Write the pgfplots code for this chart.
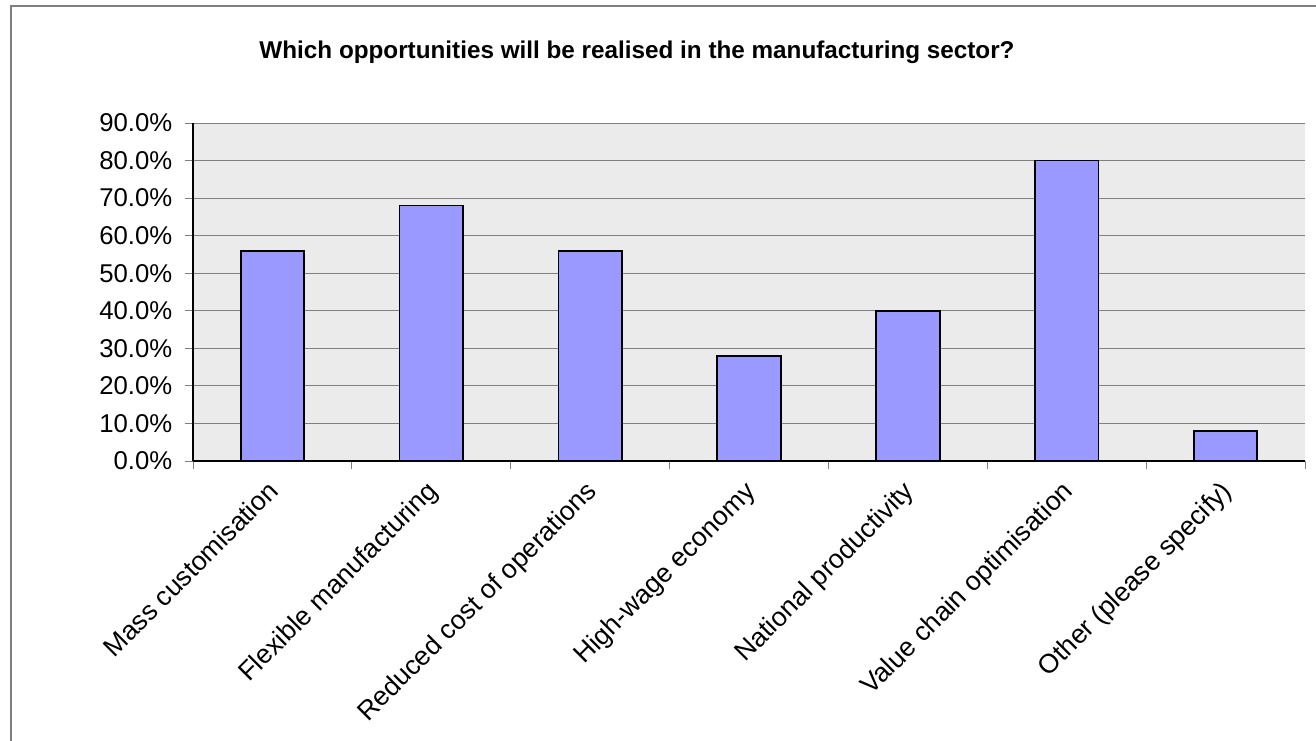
\documentclass[border=0pt]{standalone}
\usepackage{pgfplots}
\pgfplotsset{compat=1.18}
\usepackage{fontspec}
\setmainfont{Liberation Sans}
\definecolor{barfill}{HTML}{9999FF}
\definecolor{plotbg}{HTML}{EBEBEB}
\definecolor{gridc}{HTML}{808080}
\definecolor{framec}{HTML}{7F7F7F}
\begin{document}
\begin{tikzpicture}[x=0.75pt,y=0.75pt]
\useasboundingbox (0,0) rectangle (1316,741);
\clip (0,0) rectangle (1316,741);
\draw[framec, line width=0.9pt] (11,735) rectangle (1340,-30);
\node[font=\fontsize{18.2}{20}\selectfont\bfseries] at (637,689) {Which opportunities will be realised in the manufacturing sector?};
\begin{axis}[
  at={(193pt*0.75,280pt*0.75)}, anchor=south west,
  scale only axis, width=834pt, height=253.5pt,
  xmin=-0.5, xmax=6.5, ymin=0, ymax=90,
  axis background/.style={fill=plotbg},
  axis x line*=bottom, axis y line*=left,
  axis line style={black, line width=0.8pt},
  ytick={0,10,...,90},
  yticklabels={0.0\%,10.0\%,20.0\%,30.0\%,40.0\%,50.0\%,60.0\%,70.0\%,80.0\%,90.0\%},
  ymajorgrids, major grid style={gridc, line width=0.7pt},
  tick align=outside,
  major tick length=6pt, minor tick length=6pt,
  every tick/.style={gridc, line width=0.7pt},
  xtick={0,...,6},
  major x tick style={draw=none},
  minor xtick={-0.5,0.5,...,6.5},
  xticklabels={Mass customisation,Flexible manufacturing,Reduced cost of operations,High-wage economy,National productivity,Value chain optimisation,Other (please specify)},
  xticklabel style={rotate=45, anchor=north east, inner sep=0pt, xshift=-8.5pt, yshift=-2pt, font=\fontsize{20}{22}\selectfont},
  yticklabel style={xshift=-6pt, font=\fontsize{19.3}{21}\selectfont},
]
\addplot[ybar, bar width=0.4, fill=barfill, draw=black, line width=1.3pt] coordinates {
(0,56) (1,68) (2,56) (3,28) (4,40) (5,80) (6,8)
};
\end{axis}
\end{tikzpicture}
\end{document}
